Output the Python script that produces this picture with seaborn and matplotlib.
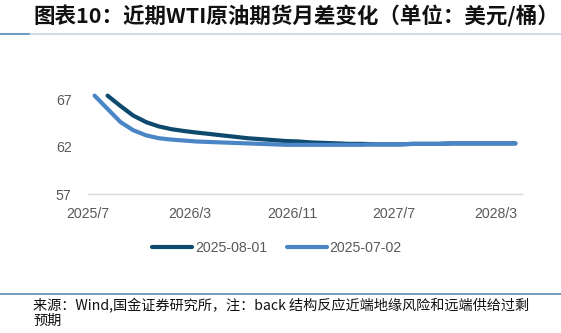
import matplotlib
matplotlib.use("Agg")
import matplotlib.pyplot as plt
import seaborn as sns
import pandas as pd
import numpy as np
from matplotlib.lines import Line2D

# ---------------- data ----------------
title = "图表10：近期WTI原油期货月差变化（单位：美元/桶）"
source = "来源：Wind,国金证券研究所，注：back 结构反应近端地缘风险和远端供给过剩\n预期"

series_names = ["2025-08-01", "2025-07-02"]
months_0702 = pd.date_range("2025-07-01", periods=34, freq="MS") + pd.Timedelta(days=15)
months_0801 = months_0702[1:]

values_0702 = [67.4, 66.0, 64.6, 63.75, 63.2, 62.9, 62.75, 62.65, 62.55, 62.5,
               62.45, 62.4, 62.35, 62.3, 62.25, 62.2, 62.2, 62.2, 62.2, 62.2,
               62.2, 62.2, 62.25, 62.25, 62.25, 62.3, 62.3, 62.3, 62.35, 62.35,
               62.35, 62.35, 62.35, 62.35]
values_0801 = [67.4, 66.3, 65.3, 64.6, 64.15, 63.85, 63.65, 63.5, 63.35, 63.2,
               63.05, 62.9, 62.8, 62.7, 62.6, 62.55, 62.45, 62.4, 62.35, 62.3,
               62.3, 62.25, 62.25, 62.25, 62.3, 62.3, 62.3, 62.35, 62.35, 62.35,
               62.35, 62.35, 62.35]

x_ticks = ["2025-07-01", "2026-03-01", "2026-11-01", "2027-07-01", "2028-03-01"]
x_ticklabels = ["2025/7", "2026/3", "2026/11", "2027/7", "2028/3"]
y_ticks = [57, 62, 67]

colors = ["#0E4A6E", "#4A86C6"]

# ---------------- build frame ----------------
df = pd.concat([
    pd.DataFrame({"date": months_0801, "value": values_0801, "series": series_names[0]}),
    pd.DataFrame({"date": months_0702, "value": values_0702, "series": series_names[1]}),
])

sns.set_theme(style="white")
plt.rcParams["font.family"] = ["Liberation Sans", "Noto Sans CJK SC", "DejaVu Sans"]

fig = plt.figure(figsize=(5.61, 3.33), dpi=100)
ax = fig.add_axes([88.3 / 561, 1 - 194 / 333, (521.7 - 88.3) / 561, (194 - 80.5) / 333])

sns.lineplot(data=df, x="date", y="value", hue="series", hue_order=series_names,
             palette=colors, linewidth=3.0, ax=ax, legend=False,
             solid_capstyle="round")

ax.set_xlim(pd.Timestamp("2025-07-01"), pd.Timestamp("2028-05-01"))
ax.set_ylim(57, 69)
ax.set_xticks(pd.to_datetime(x_ticks))
ax.set_xticklabels(x_ticklabels)
ax.set_yticks(y_ticks)
ax.set_yticklabels([str(v) for v in y_ticks])
ax.set_xlabel("")
ax.set_ylabel("")

for s in ["top", "right", "left"]:
    ax.spines[s].set_visible(False)
ax.spines["bottom"].set_color("#D9D9D9")
ax.spines["bottom"].set_linewidth(1.0)
ax.tick_params(axis="x", direction="in", length=4, width=1, color="#D9D9D9",
               labelsize=10.2, labelcolor="#595959", pad=9)
ax.tick_params(axis="y", length=0, labelsize=10.2, labelcolor="#595959", pad=12)
ax.grid(False)

# legend
handles = [Line2D([0], [0], color=c, lw=3.0, solid_capstyle="round") for c in colors]
leg = fig.legend(handles, series_names, loc="center", bbox_to_anchor=(277 / 561, 1 - 248 / 333),
                 ncol=2, frameon=False, fontsize=10.2, handlelength=2.8, handletextpad=0.2,
                 columnspacing=1.4)
for t in leg.get_texts():
    t.set_color("#595959")

# title
fig.text(33 / 561, 1 - 16 / 333, title, fontsize=15.5, fontweight="bold", style="italic",
         family=["Noto Sans CJK SC", "DejaVu Sans"], va="center", ha="left", color="#111111")
# header lines
fig.add_artist(Line2D([0, 1], [1 - 34 / 333] * 2, color="#C5D6E6", lw=1.2, transform=fig.transFigure))
fig.add_artist(Line2D([0, 29 / 561], [1 - 34 / 333] * 2, color="#6E9BC5", lw=1.5, transform=fig.transFigure))
# footer line
fig.add_artist(Line2D([0, 1], [1 - 294 / 333] * 2, color="#5A87AE", lw=1.2, transform=fig.transFigure))
# source
fig.text(33 / 561, 1 - 298 / 333, source, fontsize=10.2, family=["Noto Sans CJK SC", "DejaVu Sans"],
         va="top", ha="left", color="#111111", linespacing=1.1)

fig.savefig("out.png", dpi=100)
